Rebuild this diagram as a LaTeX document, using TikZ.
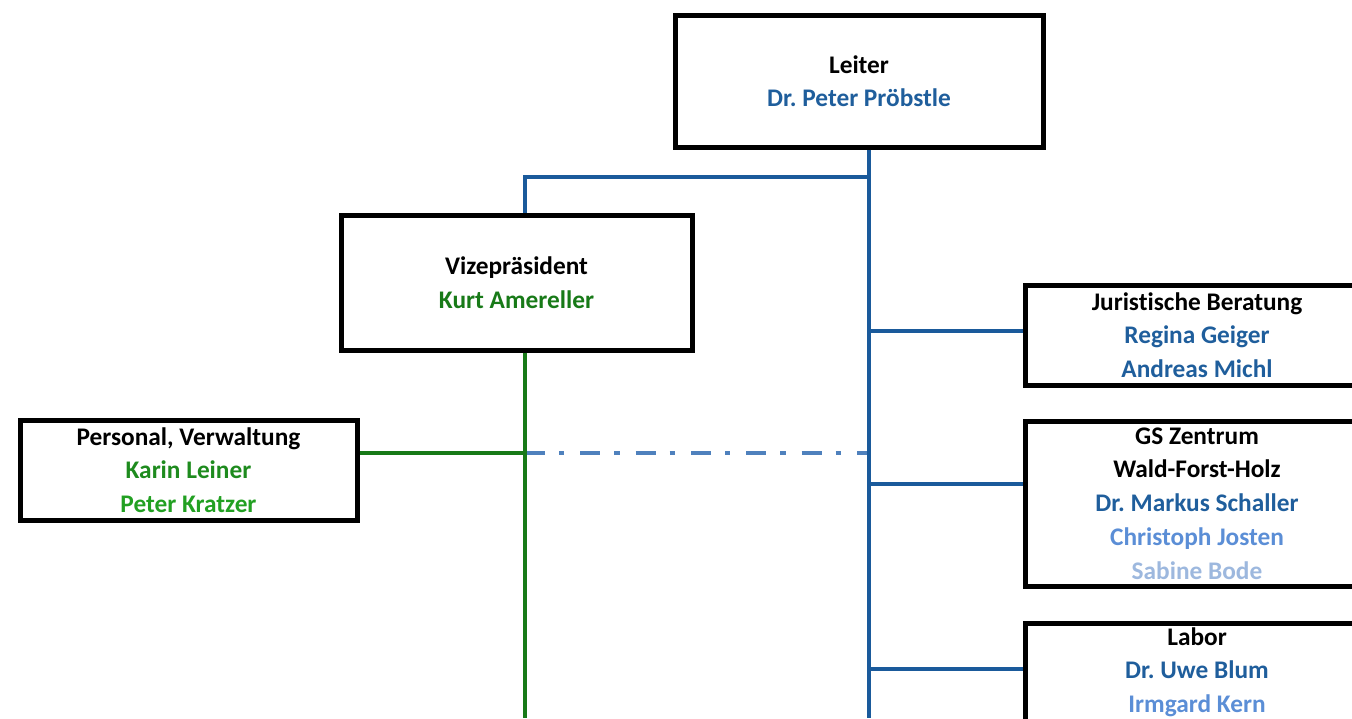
\documentclass[tikz,border=0pt]{standalone}
\usepackage{fontspec}
\setmainfont{Carlito}[Ligatures={NoCommon}]
\frenchspacing
\definecolor{dblue}{HTML}{1F5E9C}
\definecolor{lineblue}{HTML}{1A5A9B}
\definecolor{lblue}{HTML}{5B8ED6}
\definecolor{llblue}{HTML}{9DB8DE}
\definecolor{dashblue}{HTML}{4F81BD}
\definecolor{gone}{HTML}{187A18}
\definecolor{gtwo}{HTML}{1E8B1E}
\definecolor{gthree}{HTML}{22A022}
\tikzset{
  box/.style={draw=black, line width=3.75pt, rectangle, inner sep=0pt, align=center,
    font=\fontsize{19pt}{25.1pt}\selectfont\bfseries},
  bline/.style={draw=lineblue, line width=3pt},
  gline/.style={draw=gone, line width=3pt},
  dline/.style={draw=dashblue, line width=3pt, dash pattern=on 15pt off 10.5pt on 4pt off 12pt}
}
\begin{document}
\begin{tikzpicture}[x=0.75pt,y=-0.75pt]
\useasboundingbox (0,0) rectangle (1352,718);
\node[box, minimum width=276pt, minimum height=99pt] (leiter) at (859,81)
  {Leiter\\\textcolor{dblue}{Dr. Peter Pröbstle}};
\node[box, minimum width=263.25pt, minimum height=101.25pt] (vize) at (516.5,282.5)
  {Vizepräsident\\\textcolor{gone}{Kurt Amereller}};
\node[box, minimum width=252.75pt, minimum height=75pt] (pers) at (188.5,470)
  {Personal, Verwaltung\\\textcolor{gtwo}{Karin Leiner}\\\textcolor{gthree}{Peter Kratzer}};
\node[box, minimum width=258pt, minimum height=75pt] (jur) at (1197,335)
  {Juristische Beratung\\\textcolor{dblue}{Regina Geiger}\\\textcolor{dblue}{Andreas Michl}};
\node[box, minimum width=258pt, minimum height=123.75pt] (gs) at (1197,503.5)
  {GS Zentrum\\Wald-Forst-Holz\\\textcolor{dblue}{Dr. Markus Schaller}\\[0.6pt]\textcolor{lblue}{Christoph Josten}\\\textcolor{llblue}{Sabine Bode}};
\node[box, minimum width=258pt, minimum height=73.5pt] (labor) at (1197,672)
  {Labor\\\textcolor{dblue}{Dr. Uwe Blum}\\\textcolor{lblue}{Irmgard Kern}};
\coordinate (trunk) at (869,718);
\coordinate (split) at (869,177);
\coordinate (gjoin) at (525,453);
\coordinate (gbot) at (525,718);
% dash-dot link
\draw[dline] (gjoin) -- (gjoin -| trunk);
% blue trunk
\draw[bline] (leiter.south -| trunk) -- (trunk);
\draw[bline] (split) -- (split -| gjoin) -- (vize.north -| gjoin);
\draw[bline] ([yshift=3pt]jur.west -| trunk) -- ([yshift=3pt]jur.west);
\draw[bline] ([yshift=14.6pt]gs.west -| trunk) -- ([yshift=14.6pt]gs.west);
\draw[bline] ([yshift=2.2pt]labor.west -| trunk) -- ([yshift=2.2pt]labor.west);
% green
\draw[gline] (gjoin -| pers.east) -- (gjoin);
\draw[gline] (vize.south -| gbot) -- (gbot);
\end{tikzpicture}
\end{document}
